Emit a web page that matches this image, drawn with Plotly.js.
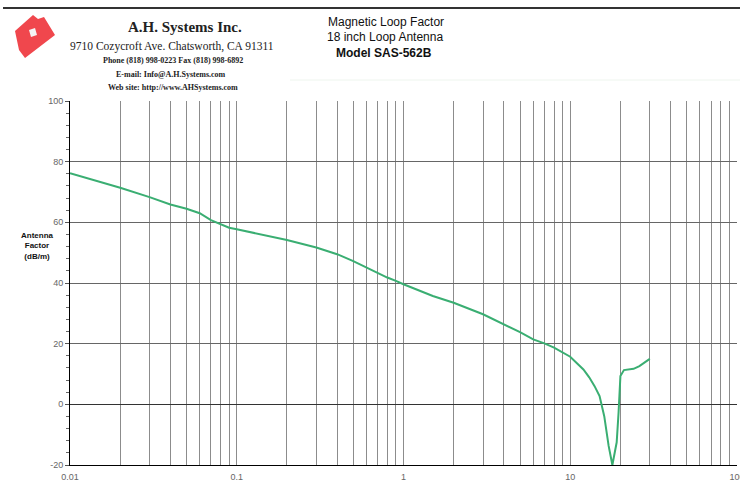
<!DOCTYPE html>
<html>
<head>
<meta charset="utf-8">
<script src="https://cdn.plot.ly/plotly-3.0.1.min.js"></script>
<style>html,body{margin:0;padding:0;background:#fff;}#chart{width:740px;height:485px;}</style>
</head>
<body>
<div id="chart"></div>
<script>
// Frequency (MHz) and antenna factor (dB/m)
const freqMHz = [0.01,0.02,0.03,0.04,0.05,0.06,0.07,0.08,0.09,0.1,0.15,0.2,0.3,0.4,0.5,0.6,0.7,0.8,0.9,1,1.5,2,3,4,5,6,7,8,9,10,12,13,14,15,16,17,17.9,19,19.5,20,21,24,26,30];
const antennaFactor = [76.2,71.4,68.3,65.9,64.5,63.0,60.7,59.3,58.2,57.7,55.7,54.2,51.7,49.5,47.2,45.0,43.2,41.8,40.7,39.6,35.7,33.5,29.7,26.4,23.8,21.4,20.1,18.7,17.0,15.7,11.5,8.9,6.0,2.7,-3.9,-13.7,-20.0,-12.5,-2.7,9.3,11.3,11.7,12.6,15.0];

const decades = [0.01,0.1,1,10];
const decadeLabels = ["0.01","0.1","1","10"];
const lastDecade = 100, lastLabel = "100";
const yTickVals = [-20,0,20,40,60,80,100];
const yTickText = ["-20","0","20","40","60","80","100"];

const headerLeft = ["A.H. Systems Inc.","9710 Cozycroft Ave. Chatsworth, CA 91311","Phone (818) 998-0223 Fax (818) 998-6892","E-mail: Info@A.H.Systems.com","Web site: http://www.AHSystems.com"];
const headerRight = ["Magnetic Loop Factor","18 inch Loop Antenna","Model SAS-562B"];
const yTitle = "Antenna<br>Factor<br>(dB/m)";

// tick grid: 1..9 within each decade, labels only at decades
const xTickVals = [], xTickText = [];
decades.forEach((d,i)=>{ for(let m=1;m<=9;m++){ xTickVals.push(d*m); xTickText.push(m===1?decadeLabels[i]:""); } });
xTickVals.push(lastDecade); xTickText.push(lastLabel);

// layout helpers (pixel -> paper)
const L=70, R=737, T=101, B=465;
const px = x => (x-L)/(R-L);
const py = y => (B-y)/(B-T);

const trace = {x:freqMHz, y:antennaFactor, type:'scatter', mode:'lines',
  line:{color:'#3aae72', width:2}, hoverinfo:'x+y', cliponaxis:true};

function ann(text,x,y,size,family,bold,color){
  return {text: bold?'<b>'+text+'</b>':text, x:px(x), y:py(y), xref:'paper', yref:'paper',
    xanchor:'center', yanchor:'middle', showarrow:false, font:{size:size,family:family,color:color||'#222'}};
}
const serif = '"Liberation Serif","Times New Roman",serif';
const sans = '"Liberation Sans",Arial,sans-serif';

const logoPts = [[15,31],[33,15],[38,19],[44,17],[55,35],[25,58],[19,50]];
const logoPath = 'M' + logoPts.map(p=>px(p[0])+','+py(p[1])).join(' L') + ' Z';
const whitePts = [[29,30],[35,28],[37,35],[31,37]];
const whitePath = 'M' + whitePts.map(p=>px(p[0])+','+py(p[1])).join(' L') + ' Z';

const layout = {
  width:740, height:485,
  margin:{l:L, r:740-R, t:T, b:485-B},
  paper_bgcolor:'#fff', plot_bgcolor:'#fff',
  showlegend:false,
  xaxis:{type:'log', range:[-2,2.0003], tickvals:xTickVals, ticktext:xTickText,
    showgrid:true, gridcolor:'#8c8c8c', gridwidth:1, ticks:'', zeroline:false,
    showline:true, linecolor:'#000', linewidth:1,
    tickfont:{size:9, family:sans, color:'#666'}, ticklabelstandoff:3,
    ticklabeloverflow:'allow'},
  yaxis:{range:[-20,100], tickvals:yTickVals, ticktext:yTickText,
    showgrid:true, gridcolor:'#666', gridwidth:1,
    zeroline:true, zerolinecolor:'#333', zerolinewidth:1.5,
    showline:true, linecolor:'#000', linewidth:1,
    ticks:'outside', ticklen:4, tickcolor:'#555',
    minor:{dtick:4, ticks:'outside', ticklen:3, tickcolor:'#666', showgrid:false},
    tickfont:{size:9, family:sans, color:'#666'}},
  shapes:[
    {type:'line', xref:'paper', yref:'paper', x0:px(3), x1:px(740), y0:py(8), y1:py(8), line:{color:'#333', width:2}},
    {type:'line', xref:'paper', yref:'paper', x0:px(290), x1:px(740), y0:py(80), y1:py(80), line:{color:'#eef5ee', width:1}},
    {type:'path', xref:'paper', yref:'paper', path:logoPath, fillcolor:'#f0474d', line:{width:0}},
    {type:'path', xref:'paper', yref:'paper', path:whitePath, fillcolor:'#f4f4f4', line:{width:0}}
  ],
  annotations:[
    ann(headerLeft[0],185,27,15,serif,true,'#222'),
    ann(headerLeft[1],172,46,11.5,serif,false,'#222'),
    ann(headerLeft[2],173,61,8,serif,true,'#222'),
    ann(headerLeft[3],171,74,8,serif,true,'#222'),
    ann(headerLeft[4],173,88,8,serif,true,'#222'),
    ann(headerRight[0],386,22,12,sans,false,'#111'),
    ann(headerRight[1],385,37,12,sans,false,'#111'),
    ann(headerRight[2],384,53,12,sans,true,'#111'),
    ann(yTitle,37,246,8,sans,true,'#111')
  ]
};
Plotly.newPlot('chart',[trace],layout,{displayModeBar:false, staticPlot:true});
</script>
</body>
</html>
